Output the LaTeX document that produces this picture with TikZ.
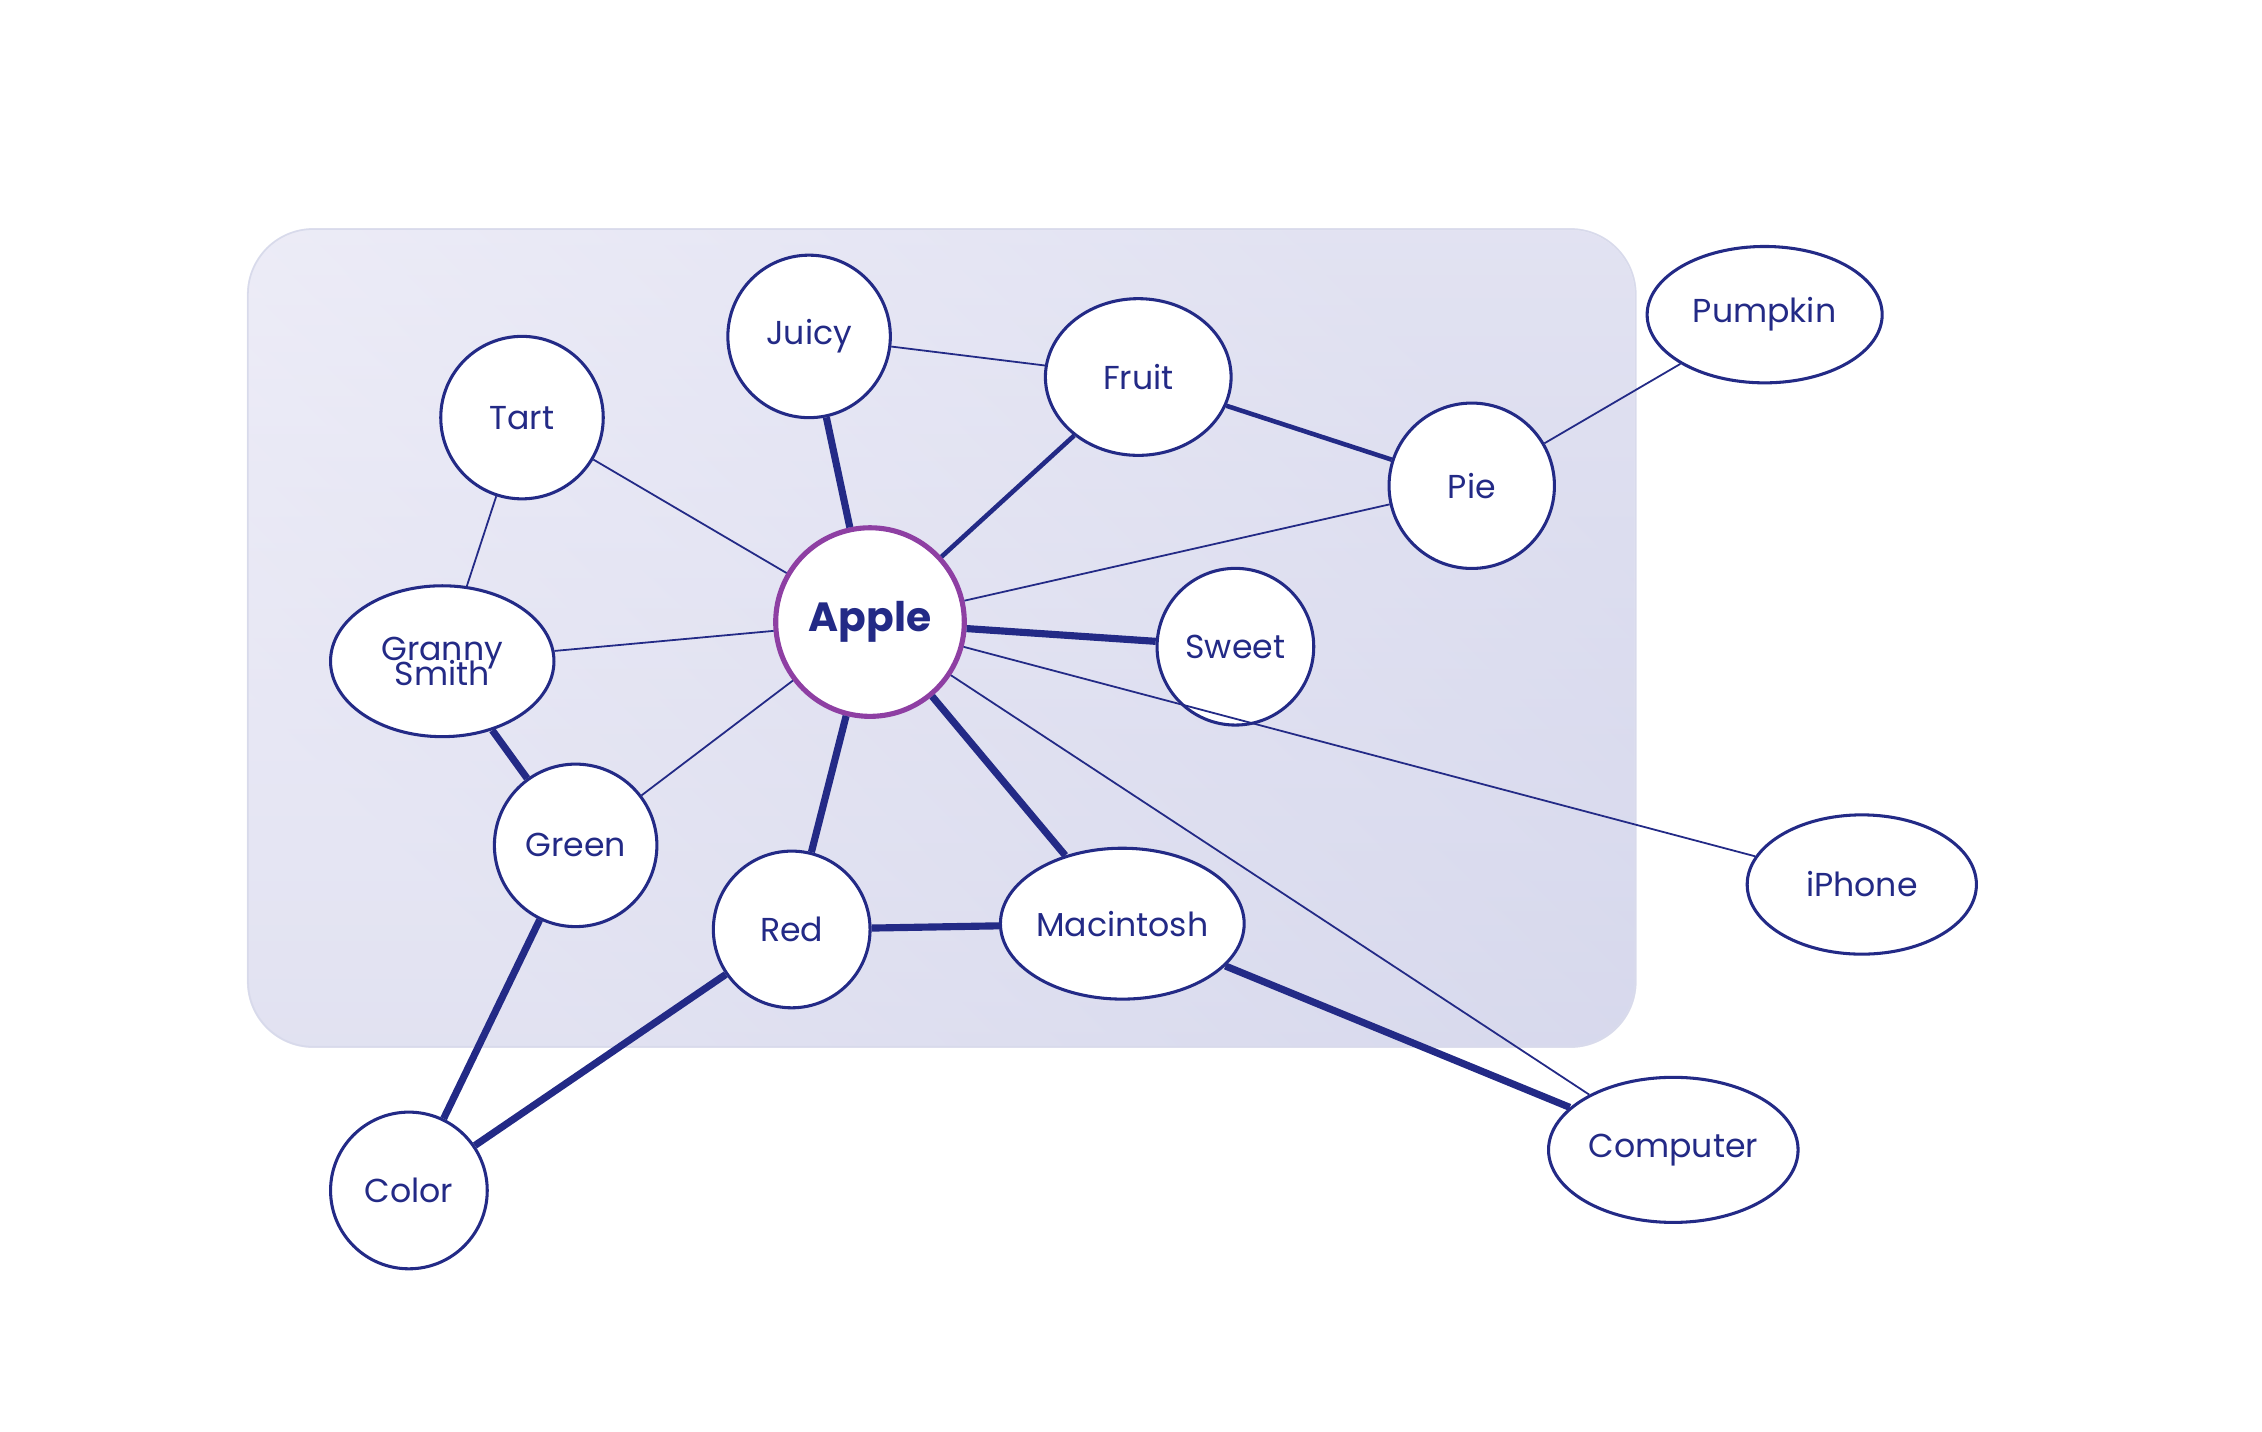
\documentclass[tikz,border=0pt]{standalone}
\usepackage{fontspec}
\setmainfont{Poppins}
\usetikzlibrary{shapes.geometric}
\definecolor{navy}{HTML}{232A86}
\definecolor{plum}{HTML}{8E3FA3}
\definecolor{lav}{HTML}{F1F0F9}
\definecolor{lavd}{HTML}{D3D5EB}
\tikzset{
  word/.style={draw=navy,fill=white,line width=0.6pt,text=navy,font=\fontsize{6.5}{7}\selectfont,inner sep=0pt,align=center},
  round/.style={word,circle,minimum size=#1},
  oval/.style={word,ellipse,minimum width=#1},
  thin/.style={navy,line width=0.35pt},
  mid/.style={navy,line width=0.9pt},
  thick/.style={navy,line width=1.4pt}
}
\begin{document}
\begin{tikzpicture}[x=0.01cm,y=-0.01cm]
\useasboundingbox (0,0) rectangle (1560,987);
\shade[left color=lav,right color=lavd,shading angle=135,rounded corners=0.45cm,draw=lavd!80!navy!30] (171,158) rectangle (1128,722);
\shade[top color=lav,bottom color=lavd,opacity=0.5,rounded corners=0.45cm] (171,158) rectangle (1128,722);
\draw[rounded corners=0.45cm,draw=lavd!70!navy!40,line width=0.3pt] (171,158) rectangle (1128,722);
% nodes
\node[round=1.3cm,draw=plum,line width=1pt,font=\bfseries\fontsize{8}{9}\selectfont] (apple) at (600,429) {Apple};
\node[round=1.12cm] (juicy) at (558,232) {Juicy};
\node[oval=1.28cm,minimum height=1.08cm] (fruit) at (785,260) {Fruit};
\node[round=1.12cm] (tart) at (360,288) {Tart};
\node[round=1.14cm] (pie) at (1015,335) {Pie};
\node[oval=1.62cm,minimum height=0.94cm] (pumpkin) at (1217,217) {Pumpkin};
\node[oval=1.54cm,minimum height=1.04cm] (granny) at (305,456) {Granny\\[-2pt]Smith};
\node[round=1.08cm] (sweet) at (852,446) {Sweet};
\node[round=1.12cm] (green) at (397,583) {Green};
\node[round=1.08cm] (red) at (546,641) {Red};
\node[oval=1.68cm,minimum height=1.04cm] (mac) at (774,637) {Macintosh};
\node[oval=1.58cm,minimum height=0.96cm] (iphone) at (1284,610) {iPhone};
\node[round=1.08cm] (color) at (282,821) {Color};
\node[oval=1.72cm,minimum height=1.0cm] (computer) at (1154,793) {Computer};
% links
\draw[thin] (juicy) -- (fruit);
\draw[thin] (tart) -- (apple);
\draw[thin] (tart) -- (granny);
\draw[thin] (granny) -- (apple);
\draw[thin] (green) -- (apple);
\draw[thin] (apple) -- (pie);
\draw[thin] (pie) -- (pumpkin);
\draw[thin] (apple) -- (iphone);
\draw[thin] (apple) -- (computer);
\draw[mid] (fruit) -- (apple);
\draw[mid] (fruit) -- (pie);
\draw[thick] (juicy) -- (apple);
\draw[thick] (apple) -- (sweet);
\draw[thick] (apple) -- (red);
\draw[thick] (apple) -- (mac);
\draw[thick] (granny) -- (green);
\draw[thick] (green) -- (color);
\draw[thick] (red) -- (color);
\draw[thick] (red) -- (mac);
\draw[thick] (mac) -- (computer);
\end{tikzpicture}
\end{document}
